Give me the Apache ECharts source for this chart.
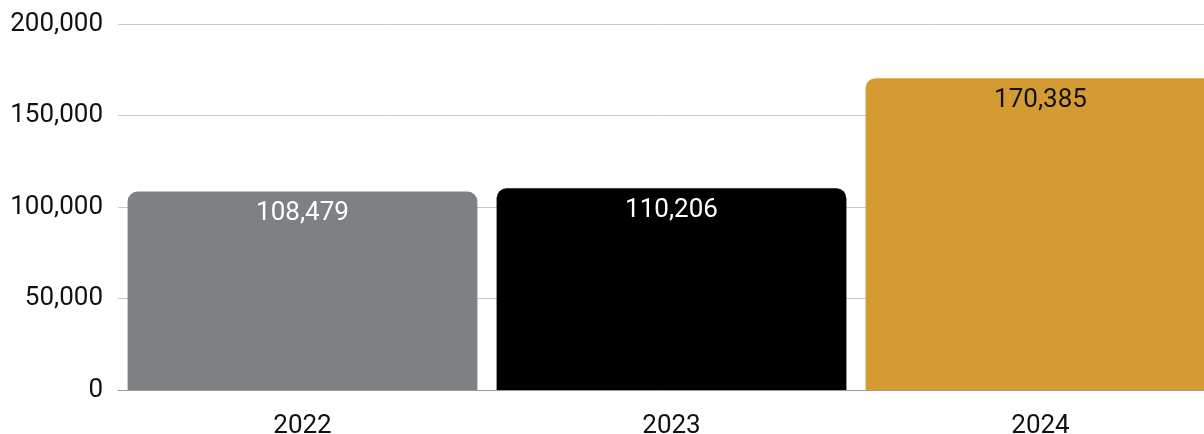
<!DOCTYPE html>
<html>
<head>
<meta charset="utf-8">
<script src="https://cdn.jsdelivr.net/npm/echarts@6/dist/echarts.min.js"></script>
<style>html,body{margin:0;padding:0;background:#fff}#c{width:1204px;height:434px}</style>
</head>
<body>
<div id="c"></div>
<script>
const categories = ['2022', '2023', '2024'];
const values = [108479, 110206, 170385];
const barColors = ['#7e8184', '#000000', '#d39b32'];
const labelColors = ['#ffffff', '#ffffff', '#111111'];
const yTicks = [0, 50000, 100000, 150000, 200000];

const chart = echarts.init(document.getElementById('c'));
const fmt = v => v.toLocaleString('en-US');
chart.setOption({
  animation: false,
  grid: { left: 118, width: 1107, top: 24, bottom: 44, containLabel: false, outerBoundsMode: 'none' },
  xAxis: {
    type: 'category',
    data: categories,
    axisTick: { show: false },
    axisLine: { lineStyle: { color: '#999', width: 1 } },
    axisLabel: { fontFamily: 'Roboto', fontSize: 26, color: '#111', margin: 23 }
  },
  yAxis: {
    type: 'value',
    min: yTicks[0],
    max: yTicks[yTicks.length - 1],
    interval: 50000,
    axisLine: { show: false },
    axisTick: { show: false },
    splitLine: { lineStyle: { color: '#c8c8c8', width: 1 } },
    axisLabel: { fontFamily: 'Roboto', fontSize: 26, color: '#111', margin: 15, formatter: v => fmt(v) }
  },
  series: [{
    type: 'bar',
    barCategoryGap: '5.2%',
    data: values.map((v, i) => ({
      value: v,
      itemStyle: { color: barColors[i], borderRadius: [10, 10, 0, 0] },
      label: { color: labelColors[i] }
    })),
    label: {
      show: true,
      position: 'insideTop',
      distance: 9,
      fontFamily: 'Roboto',
      fontSize: 26,
      formatter: p => fmt(p.value)
    }
  }]
});
</script>
</body>
</html>
